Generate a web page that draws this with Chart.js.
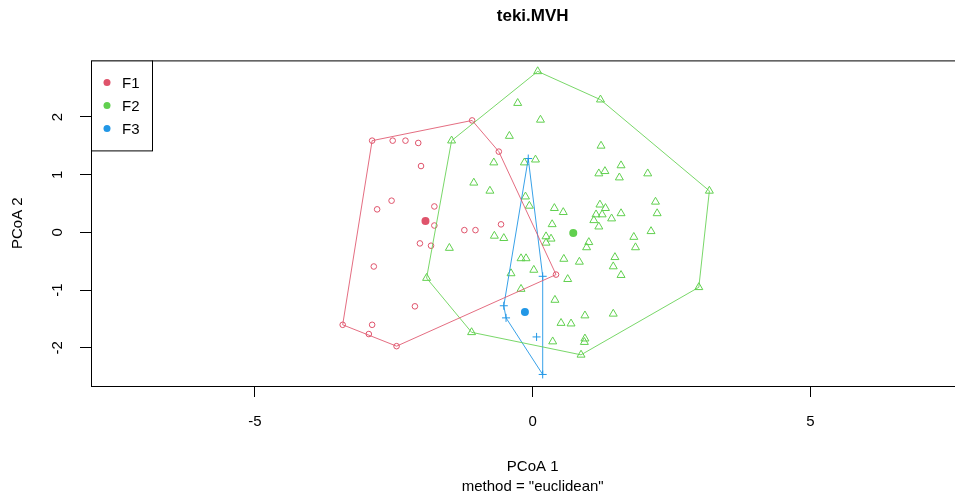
<!DOCTYPE html>
<html>
<head>
<meta charset="utf-8">
<script src="https://cdn.jsdelivr.net/npm/chart.js@4.4.1/dist/chart.umd.min.js"></script>
<style>
  html, body { margin: 0; padding: 0; background: #fff; overflow: hidden; }
  #wrap { position: relative; width: 980px; height: 500px; }
</style>
</head>
<body>
<div id="wrap"><canvas id="plot"></canvas></div>
<script>
// groups and colours (R4 palette)
const groups = ['F1', 'F2', 'F3'];
const colors = ['#DF536B', '#61D04F', '#2297E6'];
const hullColors = ['rgba(223,83,107,0.85)', 'rgba(97,208,79,0.85)', 'rgba(34,151,230,0.9)'];

// F1 scores (PCoA 1, PCoA 2)
const f1X = [-2.89, -2.52, -2.29, -2.06, -1.09, -0.61, -2.01, -2.54, -2.80, -1.77, -1.77, -1.23,
             -1.03, -0.57, -2.03, -1.83, -2.86, -2.12, -3.42, -2.89, -2.95, -2.45, 0.42];
const f1Y = [1.59, 1.59, 1.59, 1.55, 1.94, 1.40, 1.15, 0.55, 0.40, 0.45, 0.12, 0.04,
             0.04, 0.14, -0.19, -0.23, -0.59, -1.28, -1.60, -1.60, -1.76, -1.97, -0.73];

// F2 scores
const f2X = [0.09, 1.22, 3.18, 2.99, 0.87, -1.10, -1.91, -1.46,
             -0.27, 0.14, -0.42, -0.70, -0.15, 0.05, -1.06, -0.77, -0.13, -0.06, 0.39, 0.35,
             -0.69, -0.52, 0.24, 0.33, 0.24, -1.50, -0.21, -0.12, -0.39, 0.02, -0.21, 0.36,
             1.23, 1.59, 1.19, 1.30, 1.56, 2.07, 2.21, 2.24, 0.55, 1.21, 1.31, 1.14, 1.25,
             1.42, 1.59, 1.10, 1.19, 1.01, 0.97, 1.82, 1.85, 2.13, 0.56, 0.84, 1.48, 1.45,
             1.59, 0.63, 0.40, 0.94, 1.45, 0.51, 0.69, 0.94, 0.93];
const f2Y = [2.79, 2.30, 0.72, -0.95, -2.12, -1.73, -0.79, 1.59,
             2.24, 1.95, 1.67, 1.21, 1.21, 1.26, 0.86, 0.72, 0.62, 0.46, 0.42, 0.14,
             -0.06, -0.10, -0.07, -0.11, -0.18, -0.27, -0.45, -0.45, -0.71, -0.65, -0.98, -1.89,
             1.50, 1.16, 1.02, 1.06, 0.95, 1.02, 0.53, 0.33, 0.35, 0.48, 0.42, 0.31, 0.31,
             0.24, 0.33, 0.21, 0.10, -0.17, -0.26, -0.08, -0.26, 0.02, -0.46, -0.51, -0.43, -0.59,
             -0.74, -0.81, -1.17, -1.44, -1.41, -1.57, -1.58, -1.84, -1.90];

// F3 scores
const f3X = [-0.08, 0.18, -0.52, -0.48, 0.07, 0.18];
const f3Y = [1.28, -0.76, -1.27, -1.48, -1.81, -2.46];

// group centroids
const centX = [-1.93, 0.73, -0.14];
const centY = [0.20, -0.01, -1.38];

const xTicks = [-5, 0, 5];
const yTicks = [-2, -1, 0, 1, 2];

const FONT = '"Liberation Sans", Arial, sans-serif';

function pts(xs, ys) {
  return xs.map((x, i) => ({ x: x, y: ys[i] }));
}

// convex hull (monotone chain), closed
function hull(xs, ys) {
  const p = pts(xs, ys).sort((a, b) => a.x - b.x || a.y - b.y);
  const cross = (o, a, b) => (a.x - o.x) * (b.y - o.y) - (a.y - o.y) * (b.x - o.x);
  const lower = [], upper = [];
  for (const q of p) {
    while (lower.length >= 2 && cross(lower[lower.length - 2], lower[lower.length - 1], q) <= 0) lower.pop();
    lower.push(q);
  }
  for (const q of p.slice().reverse()) {
    while (upper.length >= 2 && cross(upper[upper.length - 2], upper[upper.length - 1], q) <= 0) upper.pop();
    upper.push(q);
  }
  const h = lower.slice(0, -1).concat(upper.slice(0, -1));
  h.push(h[0]);
  return h;
}

const groupX = [f1X, f2X, f3X];
const groupY = [f1Y, f2Y, f3Y];
const styles = ['circle', 'triangle', 'cross'];
const radii = [2.8, 4.6, 4];

const datasets = [];
groups.forEach((g, i) => {
  datasets.push({
    label: g + ' hull', data: hull(groupX[i], groupY[i]), showLine: true,
    borderColor: hullColors[i], borderWidth: 1, pointRadius: 0, fill: false, tension: 0
  });
});
groups.forEach((g, i) => {
  datasets.push({
    label: g, data: pts(groupX[i], groupY[i]), pointStyle: styles[i],
    pointRadius: radii[i], pointBorderColor: colors[i], pointBackgroundColor: 'rgba(0,0,0,0)',
    pointBorderWidth: 1
  });
});
datasets.push({
  label: 'centroids', data: pts(centX, centY), pointStyle: 'circle', pointRadius: 4,
  pointBackgroundColor: colors, pointBorderColor: colors, pointBorderWidth: 0
});

// box round the plot and the legend in the top-left corner
const frameAndLegend = {
  id: 'frameAndLegend',
  afterDraw(chart) {
    const { ctx, chartArea: a } = chart;
    ctx.save();
    ctx.strokeStyle = '#000';
    ctx.lineWidth = 1;
    ctx.strokeRect(a.left + 0.5, a.top + 0.5, a.right - a.left, a.bottom - a.top);
    ctx.fillStyle = '#fff';
    ctx.fillRect(a.left, a.top, 61, 90);
    ctx.strokeRect(a.left + 0.5, a.top + 0.5, 61, 90);
    ctx.font = '15px ' + FONT;
    ctx.textBaseline = 'middle';
    groups.forEach((g, i) => {
      const y = a.top + 22 + i * 23;
      ctx.fillStyle = colors[i];
      ctx.beginPath();
      ctx.arc(a.left + 16, y, 3.5, 0, 2 * Math.PI);
      ctx.fill();
      ctx.fillStyle = '#000';
      ctx.fillText(g, a.left + 31, y + 1);
    });
    ctx.restore();
  }
};

new Chart(document.getElementById('plot'), {
  type: 'scatter',
  data: { datasets: datasets },
  options: {
    responsive: true,
    maintainAspectRatio: false,
    animation: false,
    layout: { padding: { left: 0, right: 4, top: 0, bottom: 0 } },
    plugins: {
      legend: { display: false },
      tooltip: { enabled: false },
      title: {
        display: true, text: 'teki.MVH', fullSize: false, color: '#000',
        font: { family: FONT, size: 17, weight: 'bold' },
        padding: { top: 6, bottom: 34 }
      }
    },
    scales: {
      x: {
        type: 'linear', min: -7.95, max: 7.95,
        afterBuildTicks: s => { s.ticks = xTicks.map(v => ({ value: v })); },
        afterFit: s => { s.height = 114; },
        border: { display: false },
        grid: { drawOnChartArea: false, drawTicks: true, tickLength: 11, color: '#000' },
        ticks: { color: '#000', padding: 16, font: { family: FONT, size: 15 } },
        title: {
          display: true, text: ['PCoA 1', 'method = "euclidean"'], color: '#000',
          font: { family: FONT, size: 15, lineHeight: 1.333 },
          padding: { top: 0, bottom: 3 }
        }
      },
      y: {
        type: 'linear', min: -2.66, max: 2.98,
        afterBuildTicks: s => { s.ticks = yTicks.map(v => ({ value: v })); },
        afterFit: s => { s.width = 91; },
        border: { display: false },
        grid: { drawOnChartArea: false, drawTicks: true, tickLength: 11, color: '#000' },
        ticks: {
          color: '#000', padding: 15, minRotation: 90, maxRotation: 90, crossAlign: 'center',
          font: { family: FONT, size: 15 }
        },
        title: {
          display: true, text: 'PCoA 2', color: '#000',
          font: { family: FONT, size: 15 },
          padding: { top: 9, bottom: 0 }
        }
      }
    }
  },
  plugins: [frameAndLegend]
});
</script>
</body>
</html>
